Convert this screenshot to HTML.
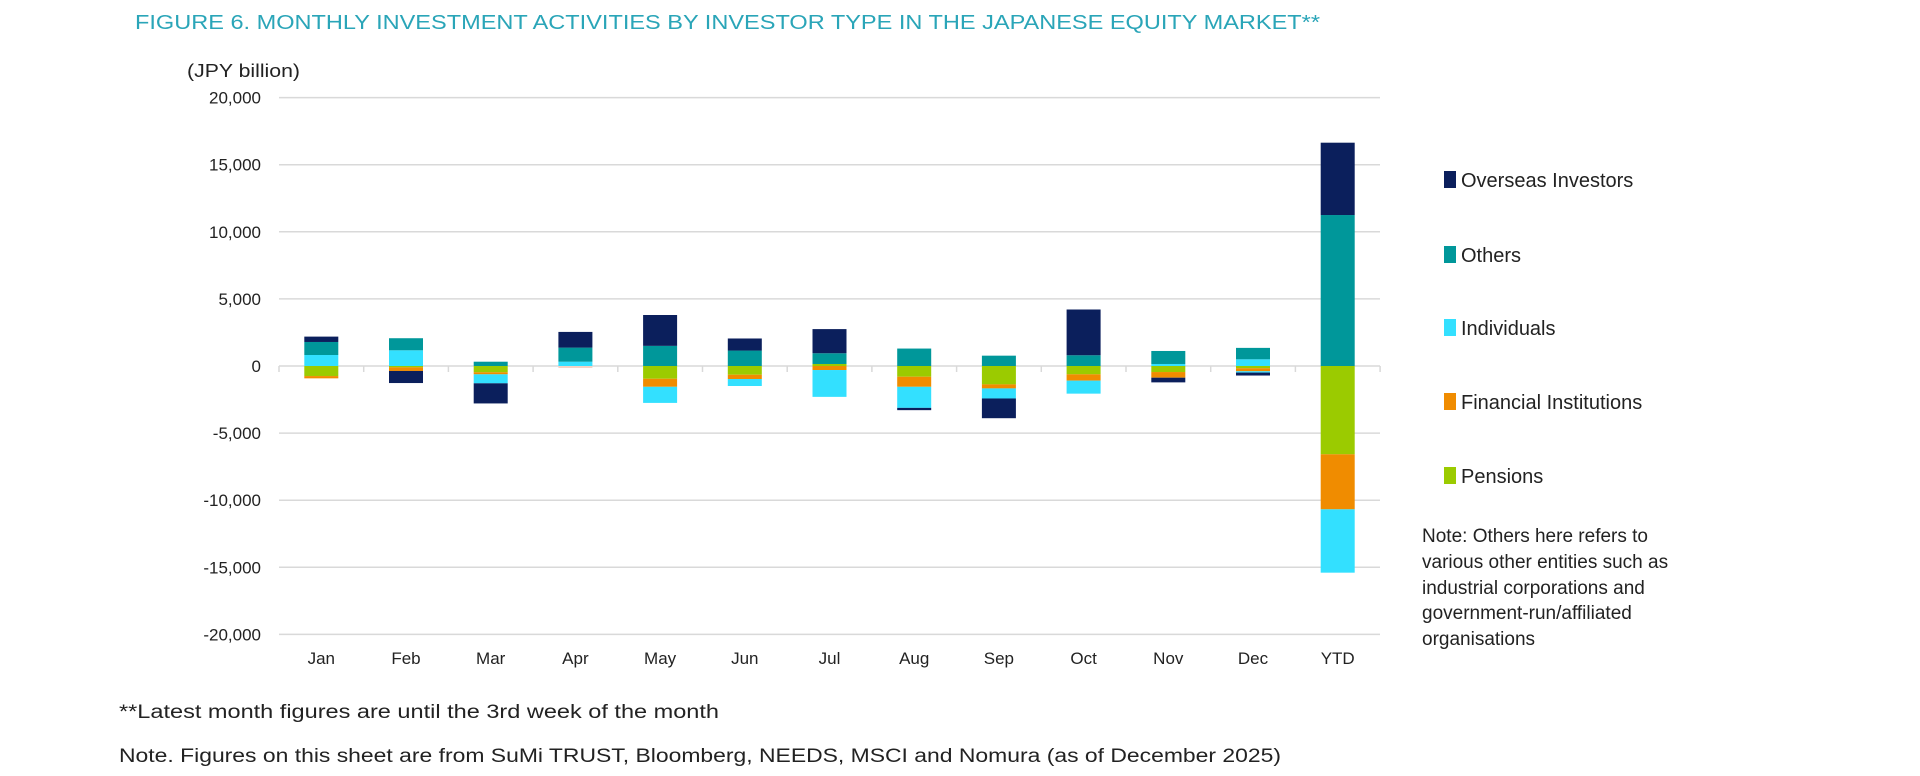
<!DOCTYPE html>
<html><head><meta charset="utf-8"><style>
html,body{margin:0;padding:0;background:#fff;}
svg{display:block;font-family:"Liberation Sans",sans-serif;}
</style></head><body>
<svg id="c" width="1920" height="776" viewBox="0 0 1920 776" xmlns="http://www.w3.org/2000/svg">
<text x="135" y="29" font-size="20" fill="#2aa5b8" textLength="1185" lengthAdjust="spacingAndGlyphs">FIGURE 6. MONTHLY INVESTMENT ACTIVITIES BY INVESTOR TYPE IN THE JAPANESE EQUITY MARKET**</text>
<text x="187" y="77" font-size="18" fill="#222" textLength="113" lengthAdjust="spacingAndGlyphs">(JPY billion)</text>
<g id="grid"></g>
<g id="bars"></g>
<g font-size="20" fill="#222">
<rect x="1444" y="171" width="12" height="17" fill="#0b1f5c"/><text x="1461" y="187">Overseas Investors</text>
<rect x="1444" y="246" width="12" height="17" fill="#00979a"/><text x="1461" y="262">Others</text>
<rect x="1444" y="319" width="12" height="17" fill="#33e0ff"/><text x="1461" y="335">Individuals</text>
<rect x="1444" y="393" width="12" height="17" fill="#f08c00"/><text x="1461" y="409">Financial Institutions</text>
<rect x="1444" y="467" width="12" height="17" fill="#9bcb00"/><text x="1461" y="483">Pensions</text>
</g>
<g font-size="19" fill="#222">
<text x="1422" y="542">Note: Others here refers to</text>
<text x="1422" y="568">various other entities such as</text>
<text x="1422" y="594">industrial corporations and</text>
<text x="1422" y="619">government-run/affiliated</text>
<text x="1422" y="645">organisations</text>
<text x="119" y="718" textLength="600" lengthAdjust="spacingAndGlyphs">**Latest month figures are until the 3rd week of the month</text>
<text x="119" y="762" textLength="1162" lengthAdjust="spacingAndGlyphs">Note. Figures on this sheet are from SuMi TRUST, Bloomberg, NEEDS, MSCI and Nomura (as of December 2025)</text>
</g>
</svg>
<script>
var NS="http://www.w3.org/2000/svg";
function el(t,a,p,txt){var e=document.createElementNS(NS,t);for(var k in a)e.setAttribute(k,a[k]);if(txt!==undefined)e.textContent=txt;p.appendChild(e);return e;}
var Z=366,K=67.1/5000;
var g=document.getElementById('grid'),b=document.getElementById('bars');
for(var v=20000;v>=-20000;v-=5000){var y=Z-v*K;
 if(v!==0)el('line',{x1:279,x2:1380,y1:y,y2:y,stroke:'#d9d9d9','stroke-width':1.5},g);
 el('text',{x:261,y:y+6,'font-size':17,fill:'#222','text-anchor':'end'},g,v===0?'0':(v<0?'-':'')+Math.abs(v).toLocaleString('en-US'));}
el('line',{x1:279,x2:1380,y1:Z,y2:Z,stroke:'#d9d9d9','stroke-width':1.5},g);
for(var i=0;i<=13;i++){var x=279+i*84.7;el('line',{x1:x,x2:x,y1:Z,y2:Z+6,stroke:'#d9d9d9','stroke-width':1.5},g);}
var C={P:'#9bcb00',F:'#f08c00',I:'#33e0ff',O:'#00979a',V:'#0b1f5c',X:'#f3d3c4'};
var D=[
['Jan',[['I',820],['O',970],['V',400]],[['P',750],['F',170]]],
['Feb',[['I',1170],['O',900]],[['P',100],['F',270],['V',900]]],
['Mar',[['O',320]],[['P',470],['F',150],['I',670],['V',1500]]],
['Apr',[['I',320],['O',1050],['V',1170]],[['X',150]]],
['May',[['O',1500],['V',2300]],[['P',950],['F',600],['I',1200]]],
['Jun',[['O',1150],['V',900]],[['P',650],['F',320],['I',520]]],
['Jul',[['P',150],['O',800],['V',1800]],[['F',300],['I',2000]]],
['Aug',[['O',1300]],[['P',800],['F',750],['I',1570],['V',170]]],
['Sep',[['O',770]],[['P',1370],['F',300],['I',750],['V',1470]]],
['Oct',[['O',800],['V',3410]],[['P',620],['F',470],['I',970]]],
['Nov',[['I',150],['O',970]],[['P',450],['F',420],['V',350]]],
['Dec',[['I',500],['O',850]],[['P',170],['F',220],['I',100],['V',220]]],
['YTD',[['O',11250],['V',5390]],[['P',6580],['F',4100],['I',4720]]]];
D.forEach(function(d,i){var cx=321.3+i*84.7,x=cx-17;
 var acc=0;d[1].forEach(function(s){var y1=Z-(acc+s[1])*K,y0=Z-acc*K;el('rect',{x:x,y:y1,width:34,height:y0-y1,fill:C[s[0]]},b);acc+=s[1];});
 acc=0;d[2].forEach(function(s){var y0=Z+acc*K,y1=Z+(acc+s[1])*K;el('rect',{x:x,y:y0,width:34,height:y1-y0,fill:C[s[0]]},b);acc+=s[1];});
 el('text',{x:cx,y:664,'font-size':17,fill:'#222','text-anchor':'middle'},b,d[0]);});
</script>
</body></html>
